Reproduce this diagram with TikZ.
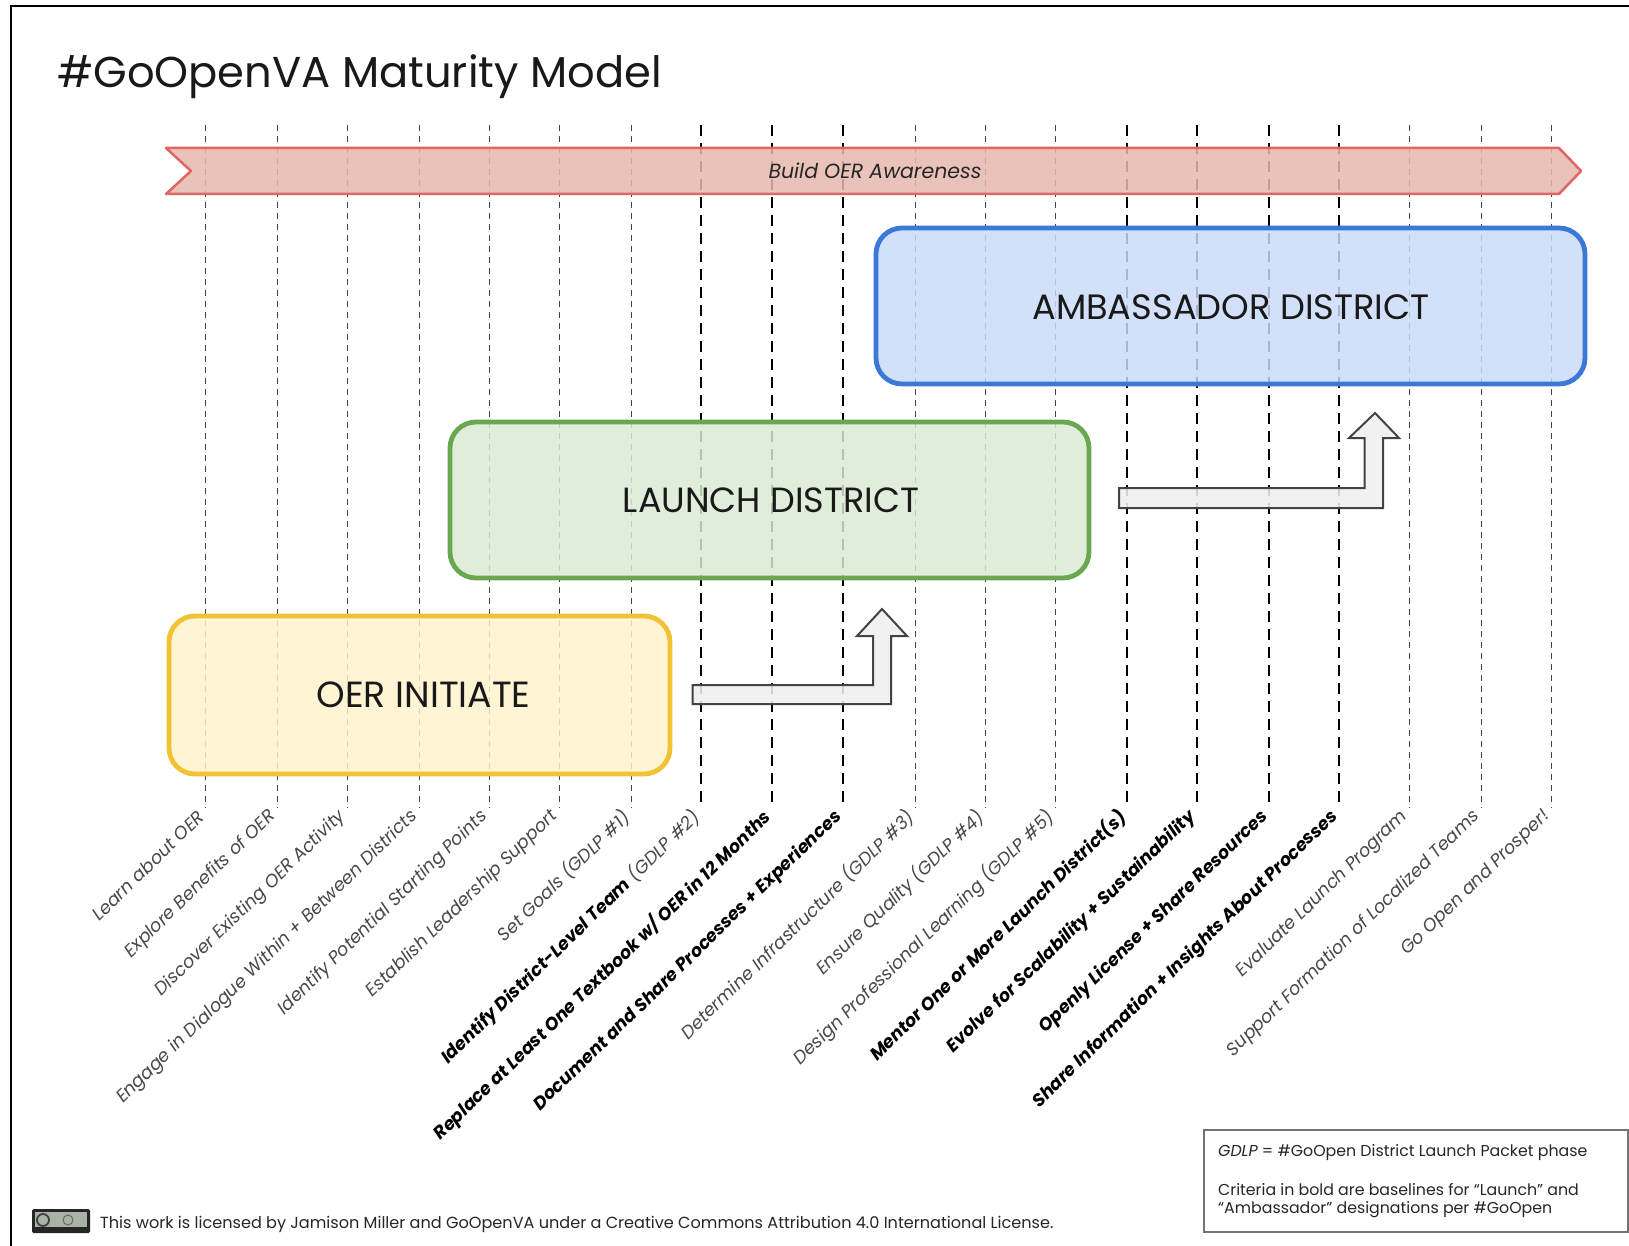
\documentclass[tikz,border=0pt]{standalone}
\usepackage{fontspec}
\setmainfont{Poppins}
\definecolor{thinln}{HTML}{434343}
\definecolor{lbl}{HTML}{484848}
\definecolor{ribS}{HTML}{E06666}
\definecolor{ribF}{HTML}{E6B8AF}
\definecolor{bluS}{HTML}{3C78D8}
\definecolor{bluF}{HTML}{C9DAF8}
\definecolor{grnS}{HTML}{6AA84F}
\definecolor{grnF}{HTML}{D9EAD3}
\definecolor{yelS}{HTML}{F1C232}
\definecolor{yelF}{HTML}{FFF2CC}
\definecolor{badgeF}{HTML}{AAB2A8}
\tikzset{
  x=1pt,y=-1pt,
  thinline/.style={draw=thinln,line width=1pt,dash pattern=on 6pt off 5pt},
  boldline/.style={draw=black,line width=2.2pt,dash pattern=on 11pt off 7pt},
  stage/.style={rounded corners=26pt,line width=4.8pt,fill opacity=.83,draw opacity=1},
  bendarrow/.style={draw=thinln,line width=2pt,fill=black!6,fill opacity=.88,line join=miter},
  stagetext/.style={font=\fontsize{35}{40}\selectfont,text=black!90},
  plainlbl/.style={rotate=44.2,anchor=east,inner sep=0pt,text=lbl,font=\fontsize{17.9}{20}\selectfont\itshape},
  boldlbl/.style={rotate=44.2,anchor=east,inner sep=0pt,text=black,font=\fontsize{17.8}{20}\selectfont\itshape\bfseries},
  smalltext/.style={anchor=west,inner sep=0pt,font=\fontsize{15.8}{17}\selectfont,text=black!85},
}
\begin{document}
\begin{tikzpicture}
\useasboundingbox (0,0) rectangle (1629,1246);
\fill[white] (0,0) rectangle (1629,1246);
\coordinate (fa) at (11,1246); \coordinate (fb) at (11,6); \coordinate (fc) at (1629,6);
\draw[black,line width=2.5pt] (fa) -- (fb) -- (fc);
\node[anchor=west,inner sep=0pt,font=\fontsize{43.2}{50}\selectfont,text=black!90] (title) at (57,77) {\#GoOpenVA Maturity Model};
% criteria lines
\foreach \n/\x/\k in {1/205/thinline,2/277/thinline,3/347/thinline,4/419/thinline,5/489/thinline,6/559/thinline,7/631/thinline,8/701/boldline,9/772/boldline,10/843/boldline,11/915/thinline,12/985/thinline,13/1055/thinline,14/1127/boldline,15/1197/boldline,16/1269/boldline,17/1339/boldline,18/1409/thinline,19/1481/thinline,20/1551/thinline}{
  \coordinate (t\n) at (\x,125);
  \coordinate (b\n) at (\x,808);
  \draw[\k] (t\n) -- (b\n);
}
% ribbon
\coordinate (ra) at (166,148); \coordinate (rb) at (1559,148); \coordinate (rc) at (1581,171);
\coordinate (rd) at (1559,194); \coordinate (re) at (166,194); \coordinate (rf) at (191,171);
\draw[draw=ribS,fill=ribF,fill opacity=.85,line width=2.5pt,line join=round] (ra) -- (rb) -- (rc) -- (rd) -- (re) -- (rf) -- cycle;
\node[font=\fontsize{20.5}{22}\selectfont\itshape,text=black!85,inner sep=0pt] (aware) at (875,171) {Build OER Awareness};
% stages
\draw[stage,draw=bluS,fill=bluF] (876,228) rectangle (1585,384);
\node[stagetext,font=\fontsize{35.2}{40}\selectfont] (amb) at (1231,307) {AMBASSADOR DISTRICT};
\draw[stage,draw=grnS,fill=grnF] (450,422) rectangle (1089,578);
\node[stagetext] (lau) at (771,500) {LAUNCH DISTRICT};
\draw[stage,draw=yelS,fill=yelF] (169,616) rectangle (670,774);
\node[stagetext,font=\fontsize{36.4}{40}\selectfont] (oer) at (423.5,695) {OER INITIATE};
% bent arrows
\draw[bendarrow] (692.5,685) -- (873,685) -- (873,636) -- (857,636) -- (882,609) -- (907,636) -- (891,636) -- (891,704) -- (692.5,704) -- cycle;
\draw[bendarrow] (1119,488) -- (1364.5,488) -- (1364.5,438) -- (1349,438) -- (1375,413) -- (1399,438) -- (1383,438) -- (1383,508) -- (1119,508) -- cycle;
% labels
\foreach \n/\x/\k/\t in {
 1/205/plainlbl/{Learn about OER},
 2/277/plainlbl/{Explore Benefits of OER},
 3/347/plainlbl/{Discover Existing OER Activity},
 4/419/plainlbl/{Engage in Dialogue Within + Between Districts},
 5/489/plainlbl/{Identify Potential Starting Points},
 6/559/plainlbl/{Establish Leadership Support},
 7/631/plainlbl/{Set Goals (GDLP \#1)},
 8/701/plainlbl/{{\bfseries\color{black}Identify District-Level Team} (GDLP \#2)},
 9/772/boldlbl/{Replace at Least One Textbook w/ OER in 12 Months},
 10/843/boldlbl/{Document and Share Processes + Experiences},
 11/915/plainlbl/{Determine Infrastructure (GDLP \#3)},
 12/985/plainlbl/{Ensure Quality (GDLP \#4)},
 13/1055/plainlbl/{Design Professional Learning (GDLP \#5)},
 14/1127/boldlbl/{Mentor One or More Launch District(s)},
 15/1197/boldlbl/{Evolve for Scalability + Sustainability},
 16/1269/boldlbl/{Openly License + Share Resources},
 17/1339/boldlbl/{Share Information + Insights About Processes},
 18/1409/plainlbl/{Evaluate Launch Program},
 19/1481/plainlbl/{Support Formation of Localized Teams},
 20/1551/plainlbl/{Go Open and Prosper!}}{
  \node[\k] (l\n) at (\x-4,814) {\t};
}
% legend
\draw[draw=black!55,line width=2pt] (1204,1130) rectangle (1628,1232);
\node[smalltext] (lg1) at (1218,1153) {\textit{GDLP} = \#GoOpen District Launch Packet phase};
\node[smalltext] (lg2) at (1218,1190) {Criteria in bold are baselines for “Launch” and};
\node[smalltext] (lg3) at (1218,1210) {“Ambassador” designations per \#GoOpen};
% licence
\fill[black!85,rounded corners=1.5pt] (32,1209) rectangle (90,1233);
\fill[badgeF] (35,1212) rectangle (87,1227);
\draw[black!75,line width=1.8pt] (43,1220) circle[radius=6];
\draw[black!60,line width=1pt] (68,1220) circle[radius=5];
\node[smalltext,font=\fontsize{16.1}{17}\selectfont] (lic) at (100,1224) {This work is licensed by Jamison Miller and GoOpenVA under a Creative Commons Attribution 4.0 International License.};
\end{tikzpicture}
\end{document}
